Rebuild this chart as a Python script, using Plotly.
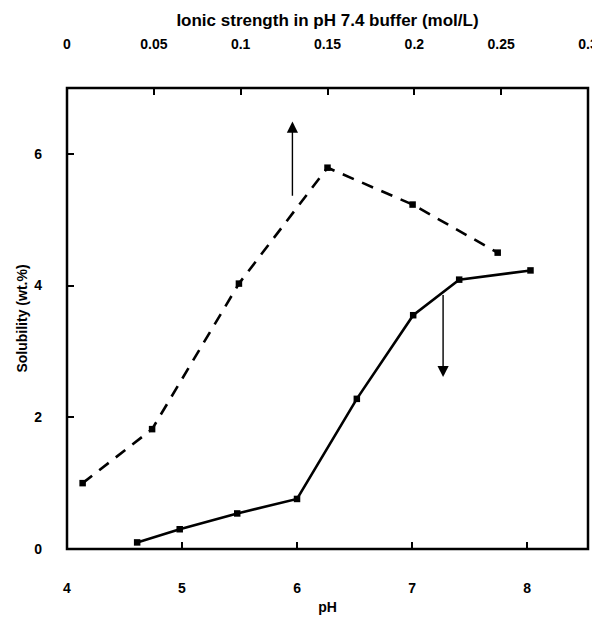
import plotly.graph_objects as go

# Solid curve: solubility vs pH (bottom axis)
ph_values = [4.61, 4.98, 5.48, 6.00, 6.52, 7.01, 7.41, 8.03]
sol_vs_ph = [0.10, 0.30, 0.54, 0.76, 2.28, 3.55, 4.09, 4.23]

# Dashed curve: solubility vs ionic strength in pH 7.4 buffer (top axis)
ionic_values = [0.009, 0.049, 0.099, 0.150, 0.199, 0.248]
sol_vs_ionic = [1.00, 1.82, 4.03, 5.79, 5.23, 4.50]

# Arrows (pH coordinate, y from -> y to)
up_arrow = dict(x=5.96, y0=5.34, y1=6.49)
down_arrow = dict(x=7.27, y0=3.88, y1=2.61)

ph_ticks = [4, 5, 6, 7, 8]
ionic_ticks = [0, 0.05, 0.1, 0.15, 0.2, 0.25, 0.3]
ionic_ticktext = ["0", "0.05", "0.1", "0.15", "0.2", "0.25", "0.3"]
y_ticks = [0, 2, 4, 6]

FONT = "Liberation Sans"
fig = go.Figure()

fig.add_trace(go.Scatter(
    x=ph_values, y=sol_vs_ph, mode="lines+markers",
    line=dict(color="black", width=2.6),
    marker=dict(symbol="square", size=6.5, color="black"),
    xaxis="x", yaxis="y", showlegend=False))

fig.add_trace(go.Scatter(
    x=ionic_values, y=sol_vs_ionic, mode="lines+markers",
    line=dict(color="black", width=2.6, dash="12px,9px"),
    marker=dict(symbol="square", size=6.5, color="black"),
    xaxis="x2", yaxis="y", showlegend=False))

for a in (up_arrow, down_arrow):
    fig.add_annotation(
        x=a["x"], y=a["y1"], ax=a["x"], ay=a["y0"],
        xref="x", yref="y", axref="x", ayref="y",
        showarrow=True, arrowhead=2, arrowsize=1.6, arrowwidth=1.4,
        arrowcolor="black", text="")

# plot frame
fig.add_shape(type="rect", xref="paper", yref="paper", x0=0, x1=1, y0=0, y1=1,
              line=dict(color="black", width=2.5), layer="above")

tickfont = dict(family=FONT, size=14, color="black", weight="bold")
titlefont = dict(family=FONT, size=14, color="black", weight="bold")
toptitlefont = dict(family=FONT, size=17, color="black", weight="bold")

# page body has an 8px default margin, so the figure is 8px smaller
fig.update_layout(
    width=592, height=617,
    margin=dict(l=59, r=12, t=80, b=76),
    paper_bgcolor="white", plot_bgcolor="white",
    xaxis=dict(
        range=[4, 8.53], tickvals=ph_ticks, ticks="inside", ticklen=7,
        tickwidth=1.5, tickcolor="black", showline=False,
        showgrid=False, zeroline=False, tickfont=tickfont, automargin=False,
        ticklabelstandoff=29,
        title=dict(text="pH", font=titlefont, standoff=7)),
    xaxis2=dict(
        range=[0, 0.3], overlaying="x", side="top",
        tickvals=ionic_ticks, ticktext=ionic_ticktext, ticks="inside",
        ticklen=7, tickwidth=1.5, tickcolor="black", showline=False,
        showgrid=False, zeroline=False, automargin=False,
        tickfont=tickfont, ticklabelstandoff=35,
        title=dict(text="Ionic strength in pH 7.4 buffer (mol/L)",
                   font=toptitlefont, standoff=5)),
    yaxis=dict(
        range=[0, 7], tickvals=y_ticks, ticks="inside", ticklen=7,
        tickwidth=1.5, tickcolor="black", showline=False,
        showgrid=False, zeroline=False, automargin=False,
        tickfont=tickfont, ticklabelstandoff=24,
        title=dict(text="Solubility (wt.%)", font=titlefont, standoff=3)),
)

fig.write_html("out.html")
